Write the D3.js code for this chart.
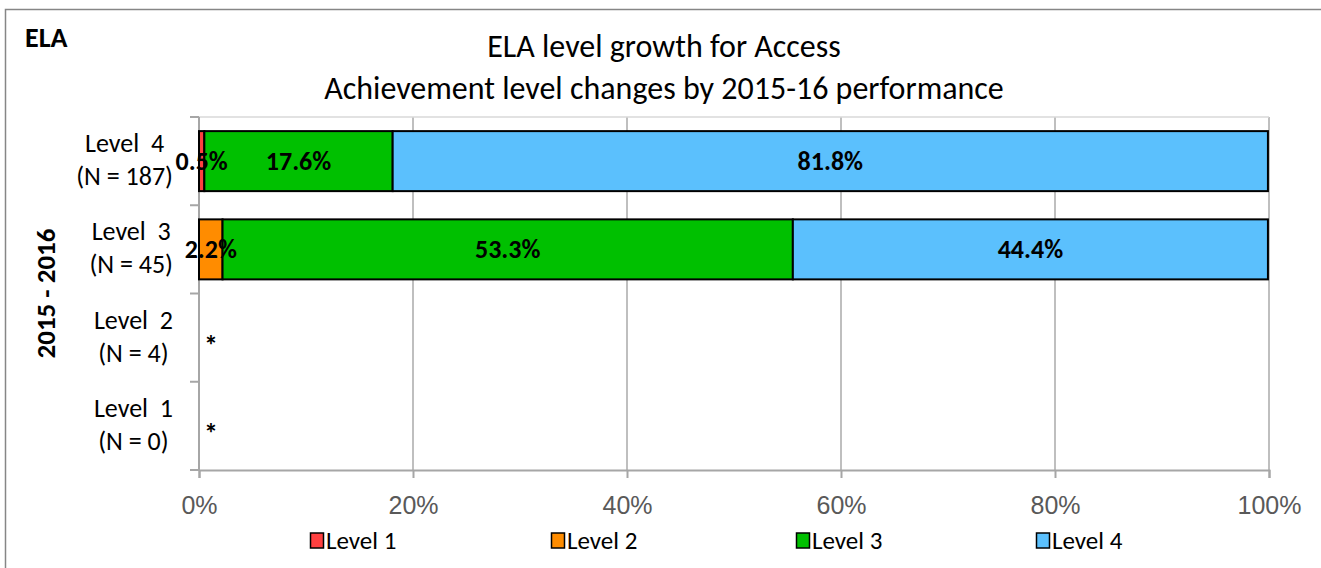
<!DOCTYPE html>
<html><head><meta charset="utf-8">
<script src="https://cdn.jsdelivr.net/npm/d3@7"></script>
<style>
html,body{margin:0;padding:0;background:#fff;}
svg{display:block;font-family:Carlito,Calibri,Lato,"Open Sans",sans-serif;}
.pre{white-space:pre;}
</style></head>
<body>
<svg id="chart" width="1321" height="568"></svg>
<script>
const categories = ["Level 4", "Level 3", "Level 2", "Level 1"];
const categoryLines = [["Level  4", "(N = 187)"], ["Level  3", "(N = 45)"], ["Level  2", "(N = 4)"], ["Level  1", "(N = 0)"]];
const seriesNames = ["Level 1", "Level 2", "Level 3", "Level 4"];
const seriesColors = ["#ff4040", "#ff8c00", "#00c000", "#5bc0fd"];
const level1Values = [0.5, 0, 0, 0];
const level2Values = [0, 2.2, 0, 0];
const level3Values = [17.6, 53.3, 0, 0];
const level4Values = [81.8, 44.4, 0, 0];
const suppressed = [false, false, true, true];
const xTicks = [0, 20, 40, 60, 80, 100];
const titleLines = ["ELA level growth for Access", "Achievement level changes by 2015-16 performance"];

const svg = d3.select("#chart");
const W = 1321, H = 568;
const m = {left: 199, right: 1269, top: 117, bottom: 470};

// outer frame
svg.append("path").attr("d", `M5.5,${H+2} V9.5 H${W+2}`).attr("fill","none").attr("stroke","#868686").attr("stroke-width",1.5);

svg.append("text").attr("x",25).attr("y",47).attr("font-size",28).attr("font-weight","bold").text("ELA");

const title = svg.append("text").attr("text-anchor","middle").attr("font-size",32).attr("fill","#000");
titleLines.forEach((t,i)=> title.append("tspan").attr("x",664).attr("y",57+i*42).text(t));

const x = d3.scaleLinear().domain([0,100]).range([m.left, m.right]);
const y = d3.scaleBand().domain(categories).range([m.top, m.bottom]).paddingInner(0.32).paddingOuter(0.16);

// gridlines
svg.append("g").selectAll("line").data(xTicks.slice(1)).join("line")
  .attr("x1",d=>x(d)).attr("x2",d=>x(d)).attr("y1",m.top).attr("y2",m.bottom)
  .attr("stroke","#bfbfbf").attr("stroke-width",2);
svg.append("line").attr("x1",m.left).attr("x2",m.right).attr("y1",m.top).attr("y2",m.top).attr("stroke","#d9d9d9").attr("stroke-width",1.5);

// x axis
const xAxis = d3.axisBottom(x).tickValues(xTicks).tickFormat(d=>d+"%").tickSize(8).tickPadding(18);
const gx = svg.append("g").attr("transform",`translate(0,${m.bottom})`).call(xAxis);
gx.select(".domain").attr("stroke","#a6a6a6").attr("stroke-width",2);
gx.selectAll(".tick line").attr("stroke","#a6a6a6").attr("stroke-width",2);
gx.selectAll("text").attr("font-size",25).attr("fill","#595959").attr("font-family","inherit");

// y axis line and ticks
const bandStep = (m.bottom-m.top)/categories.length;
const ytickYs = d3.range(categories.length+1).map(i=>m.top+i*bandStep);
svg.append("line").attr("x1",m.left).attr("x2",m.left).attr("y1",m.top).attr("y2",m.bottom).attr("stroke","#a6a6a6").attr("stroke-width",2);
svg.append("g").selectAll("line").data(ytickYs).join("line")
  .attr("x1",m.left-9).attr("x2",m.left).attr("y1",d=>d).attr("y2",d=>d).attr("stroke","#a6a6a6").attr("stroke-width",2);

// stacked bars
const rows = categories.map((c,i)=>({cat:c, "Level 1":level1Values[i], "Level 2":level2Values[i], "Level 3":level3Values[i], "Level 4":level4Values[i]}));
const stack = d3.stack().keys(seriesNames)(rows);
stack.forEach((s,si)=>{
  const g = svg.append("g");
  g.selectAll("rect").data(s.filter(d=>d[1]-d[0]>0)).join("rect")
    .attr("x",d=>x(d[0])).attr("width",d=>x(d[1])-x(d[0]))
    .attr("y",d=>y(d.data.cat)).attr("height",y.bandwidth())
    .attr("fill",seriesColors[si]).attr("stroke","#000").attr("stroke-width",2);
});
stack.forEach((s,si)=>{
  svg.append("g").selectAll("text").data(s.filter(d=>d[1]-d[0]>0)).join("text")
    .attr("x",d=>(x(d[0])+x(d[1]))/2).attr("y",d=>y(d.data.cat)+y.bandwidth()/2+9)
    .attr("text-anchor","middle").attr("font-size",26).attr("font-weight","bold")
    .text(d=>(d[1]-d[0]).toFixed(1)+"%");
});
// suppressed markers
svg.append("g").selectAll("text").data(categories.filter((c,i)=>suppressed[i])).join("text")
  .attr("x",x(0)+5).attr("y",d=>y(d)+y.bandwidth()/2+17).attr("font-size",28).attr("font-weight","bold").text("*");

// category labels
categories.forEach((c,i)=>{
  const cy = y(c)+y.bandwidth()/2;
  const g = svg.append("g");
  const ts = categoryLines[i].map((l,j)=> g.append("text").attr("class","pre").attr("font-size",26).attr("text-anchor","middle").attr("y",cy-9+j*33).text(l));
  const mw = d3.max(ts, t=>t.node().getComputedTextLength());
  ts.forEach(t=>t.attr("x",173-mw/2));
});

// y axis title
svg.append("text").attr("transform",`translate(55,${(m.top+m.bottom)/2}) rotate(-90)`).attr("text-anchor","middle")
  .attr("font-size",27).attr("font-weight","bold").text("2015 - 2016");

// legend
const legX = [310, 551, 796, 1036];
seriesNames.forEach((n,i)=>{
  const g = svg.append("g").attr("transform",`translate(${legX[i]},533)`);
  g.append("rect").attr("x",0.5).attr("y",0).attr("width",13).attr("height",15).attr("fill",seriesColors[i]).attr("stroke","#000").attr("stroke-width",1.5);
  g.append("text").attr("x",16).attr("y",16).attr("font-size",25).text(n);
});
</script>
</body></html>
